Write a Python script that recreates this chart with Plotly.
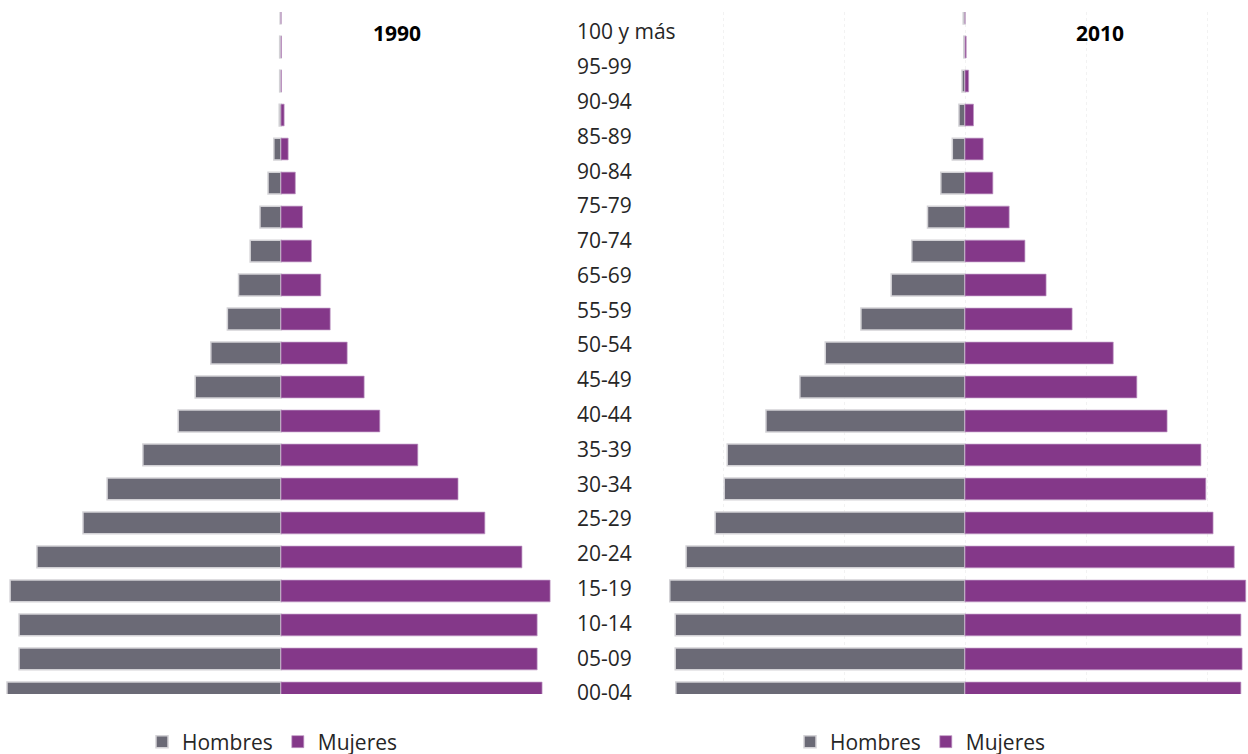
import plotly.graph_objects as go

# Age groups for the bars (bottom to top)
age_groups = ["00-04", "05-09", "10-14", "15-19", "20-24", "25-29", "30-34", "35-39",
              "40-44", "45-49", "50-54", "55-59", "60-64", "65-69", "70-74", "75-79",
              "80-84", "85-89", "90-94", "95-99", "100 y más"]

# Labels printed in the centre column (as in the original, bottom to top)
center_labels = ["00-04", "05-09", "10-14", "15-19", "20-24", "25-29", "30-34", "35-39",
                 "40-44", "45-49", "50-54", "55-59", "65-69", "70-74", "75-79", "90-84",
                 "85-89", "90-94", "95-99", "100 y más"]

# Percent of total population
hombres_1990 = [6.13, 5.86, 5.86, 6.06, 5.46, 4.43, 3.89, 3.09, 2.30, 1.92, 1.57,
                1.20, 0.95, 0.69, 0.47, 0.29, 0.16, 0.04, 0.03, 0.03, 0.02]
mujeres_1990 = [5.84, 5.73, 5.73, 6.02, 5.39, 4.56, 3.96, 3.06, 2.21, 1.86, 1.48,
                1.10, 0.89, 0.68, 0.48, 0.32, 0.16, 0.07, 0.01, 0.01, 0.0]
hombres_2010 = [4.78, 4.79, 4.79, 4.88, 4.61, 4.13, 3.98, 3.93, 3.29, 2.73, 2.31,
                1.72, 1.22, 0.88, 0.62, 0.40, 0.21, 0.10, 0.05, 0.02, 0.03]
mujeres_2010 = [4.56, 4.58, 4.56, 4.64, 4.45, 4.10, 3.98, 3.90, 3.34, 2.84, 2.45,
                1.77, 1.34, 0.99, 0.73, 0.46, 0.30, 0.14, 0.06, 0.02, 0.0]

years = ["1990", "2010"]

GRAY = "#6b6a76"
PURPLE = "#843889"
FONT = "Open Sans"
W, H = 1248, 766
KY = 766 / 754  # vertical calibration of the captured page


def px_x(p):
    return p / W


def px_y(p):
    return (H - p * KY) / H


fig = go.Figure()

panels = [
    (hombres_1990, mujeres_1990, "x", "y", "legend"),
    (hombres_2010, mujeres_2010, "x2", "y2", "legend2"),
]
for hom, muj, xa, ya, lg in panels:
    fig.add_trace(go.Bar(
        y=age_groups, x=[-v for v in hom], orientation="h", name="Hombres",
        marker=dict(color=GRAY, line=dict(color="#d3d2d6", width=1.5)),
        width=0.64, xaxis=xa, yaxis=ya, legend=lg, hoverinfo="skip"))
    fig.add_trace(go.Bar(
        y=age_groups, x=muj, orientation="h", name="Mujeres",
        marker=dict(color=PURPLE, line=dict(color="rgba(190,150,195,0.7)", width=1)),
        width=0.64, xaxis=xa, yaxis=ya, legend=lg, hoverinfo="skip"))

# invisible trace carrying the centre label axis
fig.add_trace(go.Scatter(
    x=[0] * len(center_labels), y=center_labels, mode="markers",
    marker=dict(opacity=0), xaxis="x3", yaxis="y3", showlegend=False,
    hoverinfo="skip"))

ydom = [px_y(694), px_y(12)]

common_y = dict(type="category", categoryorder="array", categoryarray=age_groups,
                range=[-0.03, 20.03], showticklabels=False, showgrid=False,
                zeroline=False, showline=False, ticks="", domain=ydom)

fig.update_layout(
    width=W, height=H,
    margin=dict(l=0, r=0, t=0, b=0),
    paper_bgcolor="white", plot_bgcolor="rgba(0,0,0,0)",
    barmode="relative", bargap=0.36,
    font=dict(family=FONT, color="#262626", size=20),
    xaxis=dict(domain=[px_x(0), px_x(560)],
               range=[(0 - 281) / 44.7, (560 - 281) / 44.7],
               showticklabels=False, showgrid=False, zeroline=False,
               showline=False, ticks="", fixedrange=True),
    yaxis=dict(anchor="x", **common_y),
    xaxis2=dict(domain=[px_x(650), 1],
                range=[(650 - 965) / 60.5, (1248 - 965) / 60.5],
                showticklabels=False, showgrid=True, dtick=2, tick0=0,
                gridcolor="#f2f2f2", griddash="dot", gridwidth=1,
                zeroline=False, showline=False, ticks="", fixedrange=True),
    yaxis2=dict(anchor="x2", **common_y),
    xaxis3=dict(domain=[px_x(542), px_x(576)], range=[0, 1],
                showticklabels=False, showgrid=False, zeroline=False,
                showline=False, ticks=""),
    yaxis3=dict(anchor="x3", side="right", type="category",
                categoryorder="array", categoryarray=center_labels,
                range=[-0.029, 19.575], domain=ydom, showgrid=False,
                zeroline=False, showline=False, ticks="",
                tickfont=dict(family=FONT, size=21, color="#262626")),
    legend=dict(orientation="h", x=px_x(142), y=px_y(742), xanchor="left",
                yanchor="middle", font=dict(family=FONT, size=21, color="#262626"),
                bgcolor="rgba(0,0,0,0)", traceorder="normal"),
    legend2=dict(orientation="h", x=px_x(790), y=px_y(742), xanchor="left",
                 yanchor="middle", font=dict(family=FONT, size=21, color="#262626"),
                 bgcolor="rgba(0,0,0,0)", traceorder="normal"),
    annotations=[
        dict(text="<b>%s</b>" % years[0], x=px_x(397), y=px_y(33), xref="paper",
             yref="paper", showarrow=False, xanchor="center", yanchor="middle",
             font=dict(family=FONT, size=21, color="#000000")),
        dict(text="<b>%s</b>" % years[1], x=px_x(1100), y=px_y(33), xref="paper",
             yref="paper", showarrow=False, xanchor="center", yanchor="middle",
             font=dict(family=FONT, size=21, color="#000000")),
    ],
)

fig.write_html(
    "out.html",
    config={"displayModeBar": False},
    post_script="document.body.style.margin='0px';document.body.style.overflow='hidden';",
)
